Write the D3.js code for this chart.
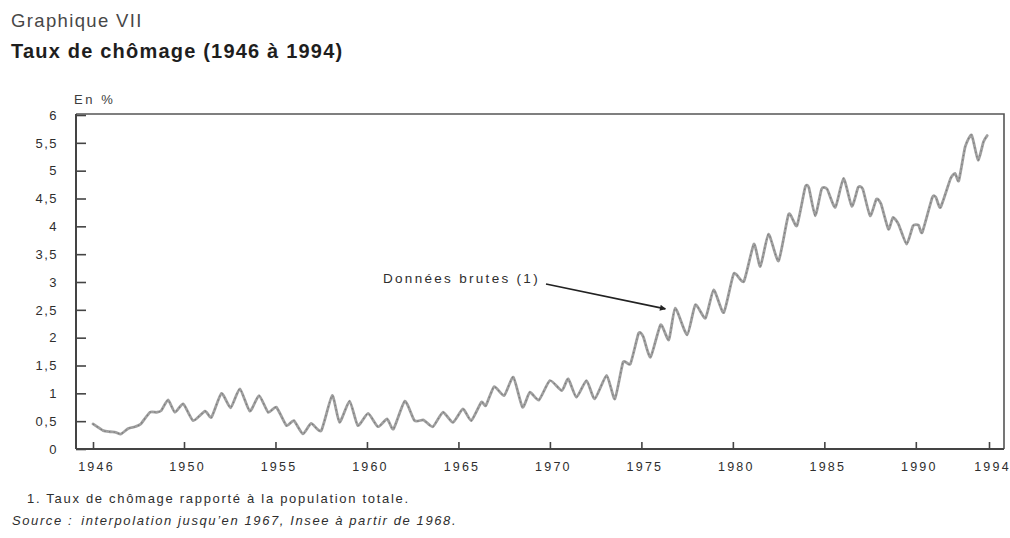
<!DOCTYPE html>
<html>
<head>
<meta charset="utf-8">
<script src="https://cdn.jsdelivr.net/npm/d3@7/dist/d3.min.js"></script>
<style>
  html, body { margin: 0; padding: 0; background: #fff; }
  svg { display: block; font-family: "Liberation Sans", Arial, Helvetica, sans-serif; }
</style>
</head>
<body>
<svg id="chart" width="1010" height="538"></svg>
<script>
// ---- Data ----
const years = [
  1946.0, 1946.45, 1946.75, 1947.0, 1947.23, 1947.55, 1947.85, 1948.1, 1948.5, 1948.8,
  1949.0, 1949.3, 1949.6, 1949.97, 1950.5, 1951.15, 1951.5, 1952.05, 1952.55, 1953.05,
  1953.6, 1954.1, 1954.6, 1955.05, 1955.6, 1956.0, 1956.5, 1956.95, 1957.5, 1958.1,
  1958.5, 1959.05, 1959.5, 1960.06, 1960.6, 1961.1, 1961.45, 1962.07, 1962.6, 1963.1,
  1963.6, 1964.15, 1964.7, 1965.25, 1965.7, 1966.25, 1966.5, 1966.95, 1967.5, 1968.0,
  1968.5, 1968.9, 1969.4, 1970.0, 1970.65, 1971.0, 1971.45, 1972.0, 1972.45, 1973.1,
  1973.55, 1974.0, 1974.4, 1974.85, 1975.1, 1975.5, 1976.05, 1976.5, 1976.85, 1977.5,
  1977.95, 1978.5, 1978.95, 1979.5, 1980.05, 1980.6, 1981.15, 1981.5, 1981.95, 1982.5,
  1983.05, 1983.5, 1983.95, 1984.15, 1984.5, 1984.85, 1985.15, 1985.6, 1986.05, 1986.5,
  1986.85, 1987.1, 1987.5, 1987.85, 1988.1, 1988.5, 1988.75, 1989.05, 1989.5, 1989.85,
  1990.15, 1990.35, 1990.9, 1991.1, 1991.35, 1991.9, 1992.15, 1992.35, 1992.7, 1993.05,
  1993.4, 1993.7, 1993.9
];
const rates = [
  0.45, 0.33, 0.31, 0.30, 0.27, 0.37, 0.40, 0.45, 0.66, 0.66,
  0.69, 0.88, 0.66, 0.81, 0.51, 0.68, 0.57, 1.00, 0.74, 1.08,
  0.68, 0.96, 0.66, 0.75, 0.42, 0.51, 0.27, 0.46, 0.33, 0.96,
  0.48, 0.86, 0.42, 0.64, 0.40, 0.54, 0.36, 0.86, 0.51, 0.52,
  0.40, 0.66, 0.48, 0.72, 0.51, 0.84, 0.78, 1.12, 0.96, 1.29,
  0.75, 1.02, 0.88, 1.23, 1.05, 1.26, 0.93, 1.23, 0.90, 1.32,
  0.90, 1.56, 1.53, 2.08, 2.02, 1.65, 2.23, 1.96, 2.53, 2.05,
  2.59, 2.35, 2.86, 2.45, 3.15, 3.01, 3.68, 3.28, 3.86, 3.38,
  4.22, 4.01, 4.70, 4.70, 4.19, 4.67, 4.67, 4.34, 4.86, 4.36,
  4.70, 4.67, 4.19, 4.49, 4.40, 3.95, 4.16, 4.04, 3.68, 4.01,
  4.02, 3.89, 4.52, 4.52, 4.34, 4.86, 4.95, 4.82, 5.43, 5.64,
  5.19, 5.52, 5.63
];
const xTickYears  = [1946, 1950, 1955, 1960, 1965, 1970, 1975, 1980, 1985, 1990, 1994];
const xTickLabels = ["1946", "1950", "1955", "1960", "1965", "1970", "1975", "1980", "1985", "1990", "1994"];
const yTickValues = [0, 0.5, 1, 1.5, 2, 2.5, 3, 3.5, 4, 4.5, 5, 5.5, 6];

const supTitle  = "Graphique VII";
const title     = "Taux de chômage (1946 à 1994)";
const unitLabel = "En %";
const annotText = "Données brutes (1)";
const annotYear = 1976.75, annotValue = 2.5;
const footnote  = "1. Taux de chômage rapporté à la population totale.";
const sourceLbl = "Source :";
const sourceTxt = "interpolation jusqu’en 1967, Insee à partir de 1968.";

// ---- Layout ----
const svg = d3.select("#chart");
const frame = { left: 76, right: 1004, top: 114, bottom: 449 };
const ink = "#2e2e2e";

// The original axis spaces 1946–1950 like a 5-year step, then 5-year steps.
const x = d3.scaleLinear().domain([1946, 1950, 1994]).range([93, 184, 989]);
const y = d3.scaleLinear().domain([0, 6]).range([frame.bottom, 115]);

const data = years.map((yr, i) => ({ yr, v: rates[i] }));

// Header texts
svg.append("text").attr("x", 11).attr("y", 27)
  .attr("font-size", 18.5).attr("letter-spacing", 1.35).attr("fill", "#474747")
  .text(supTitle);
svg.append("text").attr("x", 11).attr("y", 58)
  .attr("font-size", 20).attr("font-weight", "bold").attr("letter-spacing", 1.2).attr("fill", "#1e1e1e")
  .text(title);
svg.append("text").attr("x", 74).attr("y", 104)
  .attr("font-size", 13).attr("letter-spacing", 2.6).attr("fill", "#3c3c3c")
  .text(unitLabel);

// Frame (top and right sides)
svg.append("path")
  .attr("d", `M${frame.left},${frame.top}H${frame.right}V${frame.bottom}`)
  .attr("fill", "none").attr("stroke", "#555").attr("stroke-width", 1.6);

// Y axis
const yAxis = d3.axisLeft(y)
  .tickValues(yTickValues)
  .tickSizeInner(-10).tickSizeOuter(0).tickPadding(18)
  .tickFormat(d => String(d).replace(".", ","));
const gy = svg.append("g").attr("transform", `translate(${frame.left},0)`).call(yAxis);
gy.select(".domain").attr("stroke", "#444").attr("stroke-width", 2)
  .attr("d", `M0,${frame.top}V${frame.bottom}`);
gy.selectAll(".tick line").attr("stroke", "#444").attr("stroke-width", 1.6);
gy.selectAll(".tick text").attr("font-size", 13).attr("letter-spacing", 1.5)
  .attr("fill", ink).attr("font-family", "Liberation Sans, Arial, sans-serif");

// X axis
const xAxis = d3.axisBottom(x)
  .tickValues(xTickYears)
  .tickSizeInner(-7).tickSizeOuter(0).tickPadding(13)
  .tickFormat((d, i) => xTickLabels[i]);
const gx = svg.append("g").attr("transform", `translate(0,${frame.bottom})`).call(xAxis);
gx.select(".domain").attr("stroke", "#444").attr("stroke-width", 2)
  .attr("d", `M${frame.left},0H${frame.right}`);
gx.selectAll(".tick line").attr("stroke", "#444").attr("stroke-width", 1.6);
gx.selectAll(".tick text").attr("font-size", 12.5).attr("letter-spacing", 2.2)
  .attr("dx", 3).attr("fill", ink).attr("font-family", "Liberation Sans, Arial, sans-serif");

// Line
const line = d3.line()
  .x(d => x(d.yr)).y(d => y(d.v))
  .curve(d3.curveCardinal.tension(0.45));
svg.append("path").datum(data)
  .attr("d", line)
  .attr("fill", "none").attr("stroke", "#a0a0a0").attr("stroke-width", 2.8)
  .attr("stroke-linejoin", "round").attr("stroke-linecap", "round");
svg.append("path").datum(data)
  .attr("d", line)
  .attr("fill", "none").attr("stroke", "#7c7c7c").attr("stroke-width", 1.1)
  .attr("stroke-dasharray", "1.5,3");

// Annotation
svg.append("defs").append("marker")
  .attr("id", "arrow").attr("viewBox", "0 0 10 10")
  .attr("refX", 9).attr("refY", 5)
  .attr("markerWidth", 8).attr("markerHeight", 6)
  .attr("markerUnits", "userSpaceOnUse")
  .attr("orient", "auto")
  .append("path").attr("d", "M0,0L10,5L0,10Z").attr("fill", "#222");
svg.append("line")
  .attr("x1", 546).attr("y1", 284)
  .attr("x2", x(annotYear) - 8).attr("y2", y(annotValue) - 1)
  .attr("stroke", "#222").attr("stroke-width", 1.7)
  .attr("marker-end", "url(#arrow)");
svg.append("text").attr("x", 383).attr("y", 283)
  .attr("font-size", 13.5).attr("letter-spacing", 2.3).attr("fill", ink)
  .text(annotText);

// Footer
svg.append("text").attr("x", 27).attr("y", 503)
  .attr("font-size", 13).attr("letter-spacing", 1.7).attr("fill", ink)
  .text(footnote);
const src = svg.append("text").attr("x", 12).attr("y", 525)
  .attr("font-size", 13).attr("font-style", "italic").attr("letter-spacing", 1.6).attr("fill", ink);
src.append("tspan").text(sourceLbl);
src.append("tspan").attr("dx", 8).text(sourceTxt);
</script>
</body>
</html>
